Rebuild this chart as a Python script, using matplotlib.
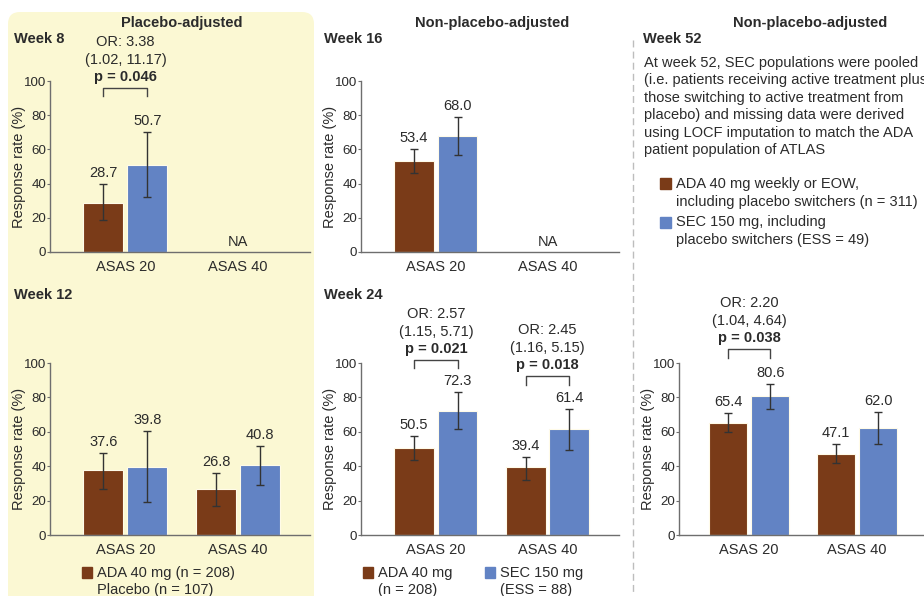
import numpy as np
import matplotlib
matplotlib.use('Agg')
import matplotlib.pyplot as plt
from matplotlib.patches import FancyBboxPatch, Rectangle

plt.rcParams['font.family'] = ['Liberation Sans', 'DejaVu Sans']
plt.rcParams['font.size'] = 10
plt.rcParams['text.color'] = '#2b2b2b'

nan = np.nan
measures = ['ASAS 20', 'ASAS 40']

# response rates (%) with 95% CI, ADA then SEC/placebo
wk8_ada, wk8_ada_lo, wk8_ada_hi = [28.7, nan], [18.5, nan], [39.6, nan]
wk8_sec, wk8_sec_lo, wk8_sec_hi = [50.7, nan], [32.0, nan], [70.0, nan]

wk12_ada, wk12_ada_lo, wk12_ada_hi = [37.6, 26.8], [27.0, 17.0], [47.8, 35.9]
wk12_sec, wk12_sec_lo, wk12_sec_hi = [39.8, 40.8], [19.0, 29.0], [60.5, 52.0]

wk16_ada, wk16_ada_lo, wk16_ada_hi = [53.4, nan], [46.4, nan], [60.0, nan]
wk16_sec, wk16_sec_lo, wk16_sec_hi = [68.0, nan], [56.7, nan], [79.0, nan]

wk24_ada, wk24_ada_lo, wk24_ada_hi = [50.5, 39.4], [43.6, 32.0], [57.4, 45.3]
wk24_sec, wk24_sec_lo, wk24_sec_hi = [72.3, 61.4], [61.6, 49.6], [83.3, 73.0]

wk52_ada, wk52_ada_lo, wk52_ada_hi = [65.4, 47.1], [60.0, 41.7], [70.8, 52.7]
wk52_sec, wk52_sec_lo, wk52_sec_hi = [80.6, 62.0], [73.0, 53.0], [88.0, 71.3]

# odds ratios: (group index, OR, CI, p)
wk8_or = [(0, 'OR: 3.38', '(1.02, 11.17)', 'p = 0.046')]
wk24_or = [(0, 'OR: 2.57', '(1.15, 5.71)', 'p = 0.021'),
           (1, 'OR: 2.45', '(1.16, 5.15)', 'p = 0.018')]
wk52_or = [(0, 'OR: 2.20', '(1.04, 4.64)', 'p = 0.038')]

BROWN = '#7a3b18'
BLUE = '#6283c4'
YELLOW = '#fbf8d3'
INK = '#2b2b2b'
AXIS = '#6e6e6e'
BAR_W = 0.355
GAP = 0.035

W, H = 924, 596
fig = plt.figure(figsize=(W / 100, H / 100), dpi=100)

bg = fig.add_axes([0, 0, 1, 1], zorder=0)
bg.set_xlim(0, W)
bg.set_ylim(H, 0)
bg.axis('off')


def px_axes(x0, y0, x1, y1):
    ax = fig.add_axes([x0 / W, 1 - y1 / H, (x1 - x0) / W, (y1 - y0) / H], zorder=1)
    ax.set_facecolor('none')
    return ax


def draw_panel(ax, ada, ada_lo, ada_hi, sec, sec_lo, sec_hi, xlim,
               comps=(), bracket_y=()):
    x = np.arange(len(measures))
    off = BAR_W / 2 + GAP / 2
    for vals, lo, hi, col, dx in [(ada, ada_lo, ada_hi, BROWN, -off),
                                  (sec, sec_lo, sec_hi, BLUE, off)]:
        vals, lo, hi = np.array(vals), np.array(lo), np.array(hi)
        ok = ~np.isnan(vals)
        ax.bar(x[ok] + dx, vals[ok], BAR_W, color=col, edgecolor='#fffbe8',
               linewidth=0.8, zorder=2)
        ax.errorbar(x[ok] + dx, vals[ok],
                    yerr=[vals[ok] - lo[ok], hi[ok] - vals[ok]],
                    fmt='none', ecolor='#333333', elinewidth=1,
                    capsize=3, capthick=1, zorder=3)
        for xi, v, h in zip(x[ok] + dx, vals[ok], hi[ok]):
            ax.annotate(f'{v:.1f}', (xi, h), xytext=(0, 4),
                        textcoords='offset pixels', ha='center', va='bottom',
                        fontsize=10.5)
    for i in x[np.isnan(np.array(ada))]:
        ax.text(i, 2, 'NA', ha='center', va='bottom', fontsize=10.5)

    # significance brackets with odds ratios
    for (g, or_txt, ci_txt, p_txt), by in zip(comps, bracket_y):
        xl, xr = g - off, g + off
        ax.plot([xl, xl, xr, xr], [by - 5, by, by, by - 5], color='#444444',
                lw=1, clip_on=False)
        for txt, dy, wt in [(p_txt, 11, 'bold'), (ci_txt, 28, 'normal'),
                            (or_txt, 46, 'normal')]:
            ax.annotate(txt, (g, by), xytext=(0, dy), textcoords='offset pixels',
                        ha='center', va='center', fontweight=wt, fontsize=10.5,
                        annotation_clip=False)

    ax.set_xlim(*xlim)
    ax.set_ylim(0, 100)
    ax.set_yticks(range(0, 101, 20))
    ax.set_xticks(x)
    ax.set_xticklabels(measures, fontsize=10.5)
    ax.tick_params(axis='x', length=0, pad=6, colors=INK)
    ax.tick_params(axis='y', length=2.5, width=0.8, color=AXIS, pad=0.3,
                   labelsize=9.6, labelcolor=INK)
    for s in ['top', 'right']:
        ax.spines[s].set_visible(False)
    for s in ['left', 'bottom']:
        ax.spines[s].set_color(AXIS)
        ax.spines[s].set_linewidth(1)
    ax.set_ylabel('Response rate (%)', fontsize=10.5, color=INK, va='center')
    # label centre sits 31 px left of the spine
    ax.yaxis.set_label_coords(-31 / (ax.get_position().width * W), 0.5)


# shaded placebo-adjusted column
bg.add_patch(FancyBboxPatch((8, 12), 306, 620,
                            boxstyle='round,pad=0,rounding_size=12',
                            fc=YELLOW, ec='none'))
bg.plot([633, 633], [40, 596], color='#bdbdbd', lw=1, ls=(0, (5, 3)))

ax1 = px_axes(50, 81, 310, 252)
draw_panel(ax1, wk8_ada, wk8_ada_lo, wk8_ada_hi, wk8_sec, wk8_sec_lo,
           wk8_sec_hi, (-0.67, 1.64), wk8_or, [96])
ax2 = px_axes(50, 363, 310, 535)
draw_panel(ax2, wk12_ada, wk12_ada_lo, wk12_ada_hi, wk12_sec, wk12_sec_lo,
           wk12_sec_hi, (-0.67, 1.64))
ax3 = px_axes(361, 81, 619, 252)
draw_panel(ax3, wk16_ada, wk16_ada_lo, wk16_ada_hi, wk16_sec, wk16_sec_lo,
           wk16_sec_hi, (-0.67, 1.64))
ax4 = px_axes(361, 363, 619, 535)
draw_panel(ax4, wk24_ada, wk24_ada_lo, wk24_ada_hi, wk24_sec, wk24_sec_lo,
           wk24_sec_hi, (-0.67, 1.64), wk24_or, [102, 92.4])
ax5 = px_axes(679, 363, 924, 535)
draw_panel(ax5, wk52_ada, wk52_ada_lo, wk52_ada_hi, wk52_sec, wk52_sec_lo,
           wk52_sec_hi, (-0.65, 1.62), wk52_or, [108])

# headers
for x, t in [(182, 'Placebo-adjusted'), (492, 'Non-placebo-adjusted'),
             (810, 'Non-placebo-adjusted')]:
    bg.text(x, 23, t, ha='center', va='center', fontweight='bold', fontsize=10.5)
for x, y, t in [(14, 39, 'Week 8'), (14, 295, 'Week 12'), (324, 39, 'Week 16'),
                (324, 295, 'Week 24'), (643, 39, 'Week 52')]:
    bg.text(x, y, t, ha='left', va='center', fontweight='bold', fontsize=10.5)

note = ['At week 52, SEC populations were pooled',
        '(i.e. patients receiving active treatment plus',
        'those switching to active treatment from',
        'placebo) and missing data were derived',
        'using LOCF imputation to match the ADA',
        'patient population of ATLAS']
for i, line in enumerate(note):
    bg.text(644, 63 + i * 17.4, line, ha='left', va='center', fontsize=10.5)

# legends
bg.add_patch(Rectangle((82, 567), 10, 11, color=BROWN))
bg.text(97, 573, 'ADA 40 mg (n = 208)', va='center', fontsize=10.5)
bg.text(97, 590, 'Placebo (n = 107)', va='center', fontsize=10.5)

bg.add_patch(Rectangle((363, 567), 10, 11, color=BROWN))
bg.text(378, 573, 'ADA 40 mg', va='center', fontsize=10.5)
bg.text(378, 590, '(n = 208)', va='center', fontsize=10.5)
bg.add_patch(Rectangle((485, 567), 10, 11, color=BLUE))
bg.text(500, 573, 'SEC 150 mg', va='center', fontsize=10.5)
bg.text(500, 590, '(ESS = 88)', va='center', fontsize=10.5)

bg.add_patch(Rectangle((660, 178), 11, 11, color=BROWN))
bg.text(676, 184, 'ADA 40 mg weekly or EOW,', va='center', fontsize=10.5)
bg.text(676, 202, 'including placebo switchers (n = 311)', va='center', fontsize=10.5)
bg.add_patch(Rectangle((660, 217), 11, 11, color=BLUE))
bg.text(676, 222, 'SEC 150 mg, including', va='center', fontsize=10.5)
bg.text(676, 240, 'placebo switchers (ESS = 49)', va='center', fontsize=10.5)

fig.savefig('out.png', dpi=100)
